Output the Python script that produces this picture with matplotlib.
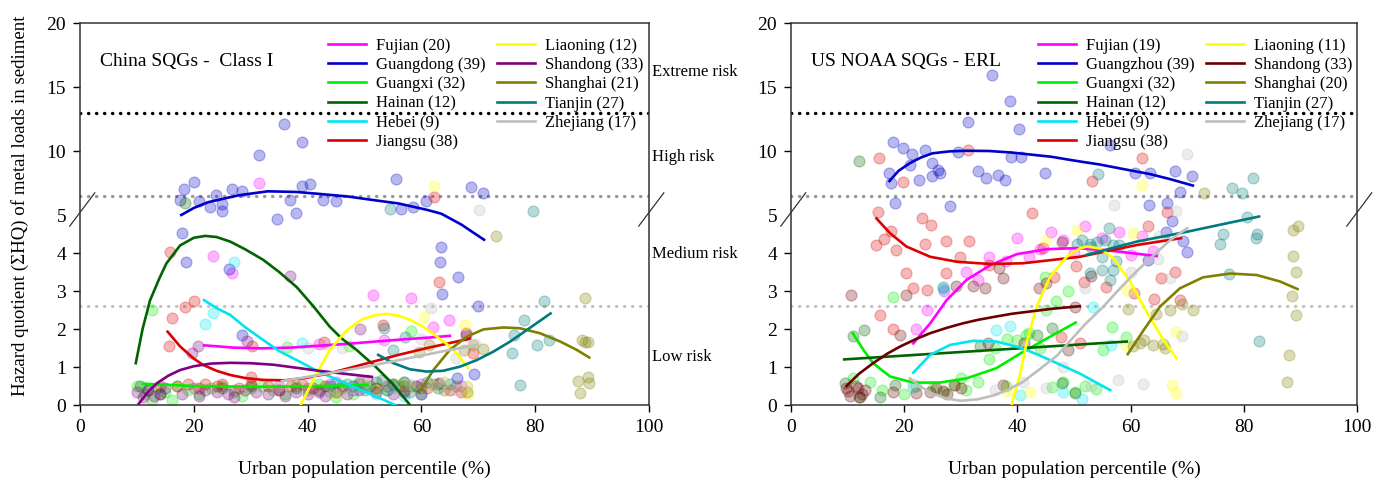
import numpy as np
import matplotlib.pyplot as plt

plt.rcParams['font.family'] = ['Liberation Serif', 'DejaVu Serif']

# legend names / sample counts
names_cn = ['Fujian', 'Guangdong', 'Guangxi', 'Hainan', 'Hebei', 'Jiangsu',
            'Liaoning', 'Shandong', 'Shanghai', 'Tianjin', 'Zhejiang']
counts_cn = [20, 39, 32, 12, 9, 38, 12, 33, 21, 27, 17]
names_us = ['Fujian', 'Guangzhou', 'Guangxi', 'Hainan', 'Hebei', 'Jiangsu',
            'Liaoning', 'Shandong', 'Shanghai', 'Tianjin', 'Zhejiang']
counts_us = [19, 39, 32, 12, 9, 38, 11, 33, 20, 27, 17]

colors_cn = ['#ff00ff', '#0000cc', '#00ee00', '#006400', '#00e5ee', '#dd0000',
             '#ffff00', '#800080', '#808000', '#007b7b', '#bebebe']
colors_us = ['#ff00ff', '#0000cc', '#00ee00', '#006400', '#00e5ee', '#dd0000',
             '#ffff00', '#6b0000', '#808000', '#007b7b', '#bebebe']

risk_levels = [13, 6.5, 2.6]
risk_colors = ['black', '#999999', '#c4c4c4']
risk_names = ['Extreme risk', 'High risk', 'Medium risk', 'Low risk']

# ---------------- China SQGs - Class I (left) ----------------
cn_fujian_pts = [(31.5, 7.5), (23.3, 3.92), (26.7, 3.48), (51.5, 2.89), (58.2, 2.82), (64.9, 2.24),
                 (62, 2.04), (53.4, 1.71), (35, 0.5), (40, 0.45), (45, 0.6), (48, 0.4), (20, 0.45),
                 (27, 0.4), (55, 0.5), (60, 0.55), (67, 0.5), (50.5, 0.65), (44, 0.55), (42, 1.6)]
cn_guangdong_pts = [(35.9, 12.1), (39, 10.7), (31.5, 9.7), (20, 7.6), (18.3, 7.0), (26.7, 7.05),
                    (39, 7.3), (40.5, 7.4), (23.9, 6.6), (55.5, 7.8), (68.8, 7.2), (70.8, 6.7),
                    (17.6, 6.2), (22.8, 5.6), (25, 5.86), (25, 5.3), (34.7, 4.89), (38, 5.13),
                    (36.9, 6.2), (45, 6.1), (60.8, 6.1), (56.5, 5.5), (21, 6.1), (42.7, 6.2),
                    (18, 4.53), (18.6, 3.76), (26.2, 3.57), (28.4, 1.84), (63.4, 4.17), (63.3, 3.76),
                    (66.5, 3.36), (63.6, 2.91), (69.9, 2.6), (67.8, 1.84), (69.3, 0.82),
                    (66.3, 0.7), (63.1, 0.59), (58.5, 5.6), (28.5, 6.9)]
cn_guangxi_pts = [(12.6, 2.5), (36.3, 1.52), (47.3, 1.54), (58.2, 1.96), (12.6, 0.13), (16.1, 0.13),
                  (10, 0.5), (11.5, 0.3), (13.5, 0.45), (15, 0.35), (17, 0.5), (19, 0.4), (21, 0.3),
                  (23, 0.45), (25, 0.5), (27, 0.35), (28.5, 0.25), (30, 0.45), (32, 0.5), (34, 0.4),
                  (36, 0.3), (38, 0.5), (40, 0.4), (42, 0.55), (44, 0.35), (46, 0.45), (48, 0.3),
                  (50, 0.5), (52, 0.45), (54, 0.4), (56, 0.5), (45, 0.2)]
cn_hainan_pts = [(18.5, 5.9), (10.5, 0.5), (12, 0.4), (14, 0.3), (25, 0.45), (30, 0.5), (38, 0.45),
                 (42, 0.4), (48, 0.5), (52, 0.6), (55, 0.55), (57, 0.5)]
cn_hebei_pts = [(27.1, 3.76), (22, 2.13), (23.3, 2.43), (39, 1.64), (48, 0.5), (52, 0.3), (55, 0.45),
                (57, 0.25), (45, 0.55)]
cn_jiangsu_pts = [(15.9, 4.03), (20.1, 2.74), (18.5, 2.57), (16.2, 2.29), (15.7, 1.56), (30.2, 1.55),
                  (42.8, 1.67), (62.2, 6.4), (63.1, 3.24), (53.3, 2.1), (67.8, 1.9), (69, 1.36),
                  (14, 0.5), (17, 0.5), (19, 0.55), (21, 0.45), (22, 0.55), (24, 0.5), (28, 0.45),
                  (30, 0.55), (33, 0.5), (35, 0.4), (37, 0.5), (39, 0.55), (41, 0.45), (43, 0.5),
                  (46, 0.5), (49, 0.55), (52, 0.45), (54, 0.5), (57, 0.4), (59, 0.5), (61, 0.45),
                  (63, 0.55), (65, 0.4), (67, 0.35), (30, 0.75), (25, 0.55)]
cn_liaoning_pts = [(62.2, 7.3), (60.5, 2.32), (67.7, 2.1), (68.2, 0.29), (68.1, 0.48), (52, 0.4),
                   (56, 0.55), (62, 0.5), (45, 0.3), (58, 0.45), (64, 0.6), (50, 0.55)]
cn_shandong_pts = [(36.9, 3.39), (20.8, 1.54), (19.7, 1.38), (29.3, 1.68), (49.2, 1.99),
                   (10, 0.35), (11, 0.2), (12, 0.4), (13, 0.25), (14, 0.3), (15, 0.45), (18, 0.3),
                   (21, 0.25), (22, 0.4), (24, 0.35), (26, 0.3), (27, 0.2), (29, 0.4), (31, 0.35),
                   (33, 0.3), (35, 0.4), (36, 0.25), (38, 0.35), (40, 0.3), (42, 0.35), (43, 0.25),
                   (45, 0.35), (47, 0.3), (49, 0.4), (52, 0.35), (55, 0.3), (57, 0.35), (60, 0.3)]
cn_shanghai_pts = [(73.1, 4.45), (88.8, 2.81), (88.8, 1.67), (89.2, 1.67), (88.2, 1.71), (89.2, 0.75),
                   (87.6, 0.64), (89.4, 0.59), (87.9, 0.32), (70.9, 1.47), (69.1, 1.58), (67.5, 1.45),
                   (61.4, 1.58), (59.6, 1.4), (58, 0.5), (60, 0.45), (62, 0.55), (64, 0.4), (66, 0.5),
                   (68, 0.35), (57, 0.6)]
cn_tianjin_pts = [(79.7, 5.3), (54.5, 5.5), (81.6, 2.74), (78.1, 2.24), (76.3, 1.84), (80.4, 1.58),
                  (82.4, 1.71), (75.9, 1.38), (77.3, 0.53), (53.4, 2.02), (57.1, 1.8), (55, 1.45),
                  (47, 0.55), (49, 0.6), (51, 0.5), (53, 0.65), (55, 0.55), (57, 0.6), (59, 0.5),
                  (61, 0.6), (63, 0.45), (65, 0.55), (50, 0.4), (54, 0.4), (58, 0.35), (44, 0.5),
                  (60, 0.3)]
cn_zhejiang_pts = [(70.1, 5.4), (61.7, 2.54), (69.4, 1.6), (66, 1.25), (43, 1.6), (46, 1.5), (50, 0.6),
                   (55, 0.45), (58, 0.55), (62, 0.5), (64, 0.6), (66, 0.4), (68, 0.5), (35, 0.5),
                   (48, 0.45), (60, 1.75), (40, 1.5)]

cn_fujian_fit = [(21.8, 1.57), (27, 1.51), (32, 1.49), (37, 1.51), (42, 1.56), (47, 1.61), (52, 1.67),
                 (57, 1.73), (61, 1.77), (65, 1.82)]
cn_guangdong_fit = [(17.8, 5.0), (20, 5.55), (22.5, 6.0), (25, 6.25), (28, 6.55), (33, 6.85), (38, 6.8),
                    (42, 6.65), (47, 6.45), (51, 6.2), (56, 5.9), (61, 5.4), (63.5, 5.1), (67, 4.75),
                    (71, 4.35)]
cn_guangxi_fit = [(11.1, 0.56), (20, 0.5), (30, 0.48), (40, 0.49), (50.5, 0.53)]
cn_hainan_fit = [(9.8, 1.1), (11, 2.0), (12.3, 2.75), (14, 3.35), (15.2, 3.73), (17.6, 4.2), (20, 4.4),
                 (22, 4.45), (24, 4.42), (26.4, 4.3), (29, 4.1), (32.2, 3.82), (35, 3.5), (38.1, 3.1),
                 (41, 2.6), (43.9, 2.06), (46, 1.75), (48.6, 1.45), (52, 1.0), (55, 0.55), (58, 0.0)]
cn_hebei_fit = [(21.8, 2.76), (24, 2.55), (26.4, 2.37), (29, 2.05), (32.2, 1.71), (35, 1.42), (38.1, 1.18),
                (41, 0.95), (43.9, 0.75), (47, 0.55), (50.7, 0.31), (55.4, 0.0)]
cn_jiangsu_fit = [(15.4, 1.93), (17.6, 1.54), (20, 1.22), (21.7, 1.05), (24, 0.9), (26.4, 0.79), (29, 0.71),
                  (32.2, 0.66), (36, 0.65), (40, 0.72), (44, 0.84), (48, 1.0), (52, 1.16), (56, 1.32),
                  (61, 1.5), (65, 1.63), (68.5, 1.75)]
cn_liaoning_fit = [(38.8, 0.0), (41, 0.66), (43.9, 1.45), (46.9, 1.97), (49.5, 2.25), (52, 2.37), (54, 2.4),
                   (56, 2.35), (58, 2.24), (60.5, 2.05), (62.7, 1.8), (64.5, 1.6), (66.2, 1.36), (68.2, 0.97)]
cn_shandong_fit = [(10.3, 0.03), (12, 0.35), (13.5, 0.57), (15.5, 0.77), (17.6, 0.92), (20, 1.02), (23, 1.09),
                   (26.4, 1.11), (30, 1.1), (34, 1.06), (38, 0.98), (42, 0.9), (46, 0.83), (51.3, 0.74)]
cn_shanghai_fit = [(59.6, 0.32), (62.1, 0.92), (65, 1.45), (68, 1.8), (70.9, 1.99), (74.4, 2.04), (77.3, 2.02),
                   (80.8, 1.89), (84.4, 1.67), (87.3, 1.45), (89.5, 1.25)]
cn_tianjin_fit = [(52.4, 1.32), (55.1, 1.1), (58, 0.94), (60.9, 0.88), (63.8, 0.9), (66.8, 1.01), (69.7, 1.18),
                  (72.6, 1.4), (75.6, 1.67), (78.5, 1.97), (82.7, 2.41)]
cn_zhejiang_fit = [(35.5, 0.63), (40, 0.74), (45, 0.87), (50, 1.0), (55, 1.15), (60, 1.3), (65, 1.45), (69.8, 1.58)]

# ---------------- US NOAA SQGs - ERL (right) ----------------
us_fujian_pts = [(46, 4.55), (48, 4.35), (44, 4.1), (40, 4.4), (38, 3.8), (52, 4.7), (58, 4.55), (62, 4.45),
                 (35, 3.9), (31, 3.5), (27, 3.0), (24, 2.5), (22, 2.0), (55, 4.4), (60, 3.95), (64, 4.05),
                 (42, 3.9), (50, 4.0), (33, 3.3)]
us_guangzhou_pts = [(35.6, 15.9), (38.7, 13.9), (31.2, 12.3), (40.3, 11.7), (18, 10.7), (19.7, 10.2),
                    (21.4, 9.74), (23.7, 10.1), (24.9, 9.04), (26, 8.5), (26.3, 8.26), (17.4, 8.26),
                    (17.6, 7.47), (22.6, 7.73), (24.9, 8.05), (34.5, 7.87), (36.6, 8.1), (37.8, 7.73),
                    (38.8, 9.55), (40.6, 9.55), (44.8, 8.26), (56.4, 10.5), (60.7, 8.3), (63.4, 8.26),
                    (67.8, 8.44), (70.8, 8.05), (68.7, 6.8), (18.4, 5.91), (28.1, 5.7), (63.3, 5.78),
                    (66.5, 5.91), (67.4, 4.83), (66.2, 4.56), (69.3, 4.32), (69.9, 4.03), (63, 3.82),
                    (29.5, 9.95), (33, 8.4), (21, 8.9)]
us_guangxi_pts = [(18.1, 2.83), (29, 0.53), (38.1, 1.75), (41.6, 1.84), (44.9, 3.38), (46.9, 2.74),
                  (46.1, 0.48), (56.8, 2.04), (59.1, 1.8), (55.1, 1.45), (53.9, 0.41), (50.2, 0.35),
                  (49, 3.0), (40, 1.7), (36, 1.5), (30, 0.7), (25, 0.45), (22, 0.5), (14, 0.6), (11, 0.7),
                  (16, 0.4), (20, 0.3), (33, 0.6), (42, 1.9), (48, 0.6), (52, 0.5), (35, 1.2), (44, 1.5),
                  (27, 0.35), (31, 0.4), (38, 0.5), (45, 2.5)]
us_hainan_pts = [(12.1, 9.24), (9.5, 0.59), (12.9, 1.97), (10.9, 1.82), (12.2, 0.22), (15.7, 0.2),
                 (18.4, 0.53), (33.4, 1.54), (43.4, 1.84), (46.1, 2.02), (47.8, 0.57), (50.2, 0.32)]
us_hebei_pts = [(26.9, 3.04), (36.2, 1.97), (38.7, 2.08), (40.5, 0.26), (48.1, 0.35), (21.6, 0.48),
                (51.4, 0.16), (56.5, 1.58), (53.4, 2.57)]
us_jiangsu_pts = [(15.6, 9.48), (19.7, 7.6), (31.2, 10.1), (62, 9.43), (53.1, 7.65), (15.4, 5.26),
                  (42.6, 5.13), (23.2, 4.91), (24.7, 4.74), (17.6, 4.59), (16.4, 4.36), (15.1, 4.21),
                  (18.6, 4.08), (23.7, 4.24), (27.3, 4.32), (31.5, 4.32), (29.9, 3.89), (20.3, 3.48),
                  (27.3, 3.48), (21.5, 3.07), (24, 3.03), (15.8, 2.37), (18.1, 2.0), (44.6, 4.12),
                  (46.4, 3.38), (34.9, 3.68), (50.4, 3.66), (47.7, 1.8), (63, 4.71), (66.5, 5.26),
                  (51.8, 3.25), (55.6, 3.1), (60.6, 2.94), (65.3, 3.33), (67.8, 3.51), (64.1, 2.78),
                  (68.7, 2.76), (51.1, 1.62)]
us_liaoning_pts = [(62.1, 7.34), (38.1, 0.38), (42.2, 0.35), (60.4, 4.52), (67.3, 0.53), (68.1, 0.31),
                   (68, 1.93), (59.1, 1.58), (59.3, 3.03), (50.5, 4.6), (45, 4.35)]
us_shandong_pts = [(10.6, 2.89), (20.4, 2.89), (32.1, 3.13), (34.2, 3.07), (37.5, 3.33), (36.7, 3.6),
                   (29.1, 3.13), (19.3, 1.84), (43.9, 3.07), (47.8, 4.3), (50.2, 2.59), (49, 1.46),
                   (10.1, 0.38), (11.9, 0.44), (12.6, 0.3), (18.1, 0.35), (22.1, 0.32), (25.7, 0.44),
                   (26.8, 0.38), (28.8, 0.53), (34.8, 1.64), (41.2, 1.64), (37.5, 0.53), (10.5, 0.25),
                   (13, 0.4), (27.5, 0.3), (53, 3.4), (11.5, 0.5), (24.5, 0.35), (12, 0.2), (9.8, 0.45),
                   (30, 0.45), (45, 3.2)]
us_shanghai_pts = [(73, 6.7), (88.7, 4.61), (89.5, 4.71), (88.7, 3.92), (89.3, 3.51), (88.6, 2.87),
                   (89.2, 2.37), (88, 1.32), (87.7, 0.61), (59.6, 2.52), (67, 2.5), (69, 2.66), (71, 2.5),
                   (61.7, 1.64), (63.9, 1.58), (65.8, 1.61), (62.3, 1.7), (60.5, 1.55), (64.5, 2.4), (66, 1.5)]
us_tianjin_pts = [(54.3, 8.2), (78, 7.09), (79.6, 6.7), (81.6, 7.87), (56.2, 4.65), (52.8, 4.25), (54, 4.3),
                  (56.9, 4.21), (54.9, 3.55), (56.9, 3.55), (56.4, 3.3), (52.8, 3.48), (76.4, 4.5),
                  (75.8, 4.23), (82.3, 4.5), (82.1, 4.39), (80.5, 4.94), (77.3, 3.44), (82.7, 1.69),
                  (50.5, 4.25), (51.5, 4.35), (53, 4.15), (55.5, 4.35), (58, 4.2), (55, 3.9), (57.5, 3.8),
                  (26.9, 3.1)]
us_zhejiang_pts = [(57.1, 5.78), (68, 5.34), (64.9, 3.83), (67, 3.33), (51.9, 3.07), (57.8, 0.66),
                   (62.2, 0.55), (69, 1.82), (70, 9.8), (21.6, 0.55), (36, 0.4), (41, 0.6), (45, 0.45),
                   (48, 1.0), (60, 3.5), (65, 4.45), (53, 0.5)]

us_fujian_fit = [(21.6, 1.62), (24.6, 2.15), (27.5, 2.76), (31, 3.29), (35.2, 3.68), (39.9, 3.97),
                 (45.2, 4.1), (50.5, 4.13), (55.2, 4.08), (60, 4.0), (64.6, 3.92)]
us_guangzhou_fit = [(17.4, 7.65), (19, 8.45), (21, 9.05), (23, 9.5), (25, 9.82), (28, 9.97), (31, 10.02),
                    (35, 10.0), (39, 9.88), (42.8, 9.7), (46, 9.55), (48.7, 9.35), (51.5, 9.15), (54.5, 8.95),
                    (58, 8.65), (61, 8.4), (63.4, 8.2), (67, 7.8), (71, 7.3)]
us_guangxi_fit = [(10.9, 1.89), (12.8, 1.45), (14.5, 1.1), (17.5, 0.75), (21.6, 0.59), (26.3, 0.59),
                  (31, 0.7), (36.3, 0.97), (41, 1.4), (45.8, 1.8), (50.3, 2.17)]
us_hainan_fit = [(9.4, 1.2), (59.3, 1.67)]
us_hebei_fit = [(21.6, 0.85), (24.6, 1.32), (28.1, 1.58), (32.2, 1.69), (36.3, 1.67), (41, 1.49),
                (45.8, 1.18), (51, 0.83), (56.4, 0.39)]
us_jiangsu_fit = [(15.1, 4.91), (17.5, 4.52), (20.4, 4.17), (24.6, 3.9), (29.3, 3.77), (35.2, 3.71),
                  (41, 3.73), (46.9, 3.83), (51, 3.9), (55.2, 4.03), (61.1, 4.21), (68.9, 4.39)]
us_liaoning_fit = [(39, 0.0), (40.5, 0.83), (41.6, 1.62), (43.4, 2.59), (45.8, 3.38), (48.7, 3.9), (51, 4.12),
                   (52.2, 4.17), (54.6, 4.12), (57, 3.86), (59.9, 3.25), (62.8, 2.46), (65.8, 1.71), (68.1, 1.23)]
us_shandong_fit = [(9.8, 0.5), (12, 0.82), (14.5, 1.1), (17, 1.35), (19.3, 1.54), (22, 1.73), (24.6, 1.89),
                   (27.5, 2.03), (30.4, 2.15), (33, 2.24), (36.3, 2.33), (39, 2.4), (42.2, 2.46), (46, 2.53),
                   (51, 2.6)]
us_shanghai_fit = [(59.5, 1.34), (62.3, 1.97), (65.2, 2.59), (68.7, 3.07), (72.8, 3.36), (77.6, 3.46),
                   (82.3, 3.42), (86.4, 3.25), (89.5, 3.05)]
us_tianjin_fit = [(52.2, 3.95), (61.1, 4.3), (70, 4.56), (76, 4.75), (82.7, 4.96)]
us_zhejiang_fit = [(21, 0.7), (23, 0.47), (25, 0.3), (27.5, 0.17), (30, 0.11), (33, 0.15), (35.5, 0.24),
                   (38, 0.38), (41, 0.61), (44, 0.95), (47, 1.3), (49.5, 1.72), (52, 2.13), (55.2, 2.59),
                   (58, 3.05), (61, 3.51), (64, 3.93), (67, 4.34), (70, 4.65)]

cn_pts = [cn_fujian_pts, cn_guangdong_pts, cn_guangxi_pts, cn_hainan_pts, cn_hebei_pts, cn_jiangsu_pts,
          cn_liaoning_pts, cn_shandong_pts, cn_shanghai_pts, cn_tianjin_pts, cn_zhejiang_pts]
cn_fits = [cn_fujian_fit, cn_guangdong_fit, cn_guangxi_fit, cn_hainan_fit, cn_hebei_fit, cn_jiangsu_fit,
           cn_liaoning_fit, cn_shandong_fit, cn_shanghai_fit, cn_tianjin_fit, cn_zhejiang_fit]
us_pts = [us_fujian_pts, us_guangzhou_pts, us_guangxi_pts, us_hainan_pts, us_hebei_pts, us_jiangsu_pts,
          us_liaoning_pts, us_shandong_pts, us_shanghai_pts, us_tianjin_pts, us_zhejiang_pts]
us_fits = [us_fujian_fit, us_guangzhou_fit, us_guangxi_fit, us_hainan_fit, us_hebei_fit, us_jiangsu_fit,
           us_liaoning_fit, us_shandong_fit, us_shanghai_fit, us_tianjin_fit, us_zhejiang_fit]

# broken y axis: 0-5 stretched, 5-20 compressed
BRK = 5.0
K = 12.8 / 38.0


def fwd(y):
    y = np.asarray(y, dtype=float)
    return np.where(y <= BRK, y, BRK + (y - BRK) * K)


def inv(t):
    t = np.asarray(t, dtype=float)
    return np.where(t <= BRK, t, BRK + (t - BRK) / K)


def draw_panel(ax, pts, fits, names, counts, colors, title):
    ax.set_yscale('function', functions=(fwd, inv))
    for p, c in zip(pts, colors):
        p = np.array(p)
        ax.scatter(p[:, 0], p[:, 1], s=62, color=c, alpha=0.28, edgecolors=c, linewidths=0.9, zorder=2)
    for lev, rc in zip(risk_levels, risk_colors):
        ax.axhline(lev, color=rc, lw=2.4, ls=(0, (0.1, 2.3)), dash_capstyle='round', zorder=1)
    for f, c, n, k in zip(fits, colors, names, counts):
        f = np.array(f)
        ax.plot(f[:, 0], f[:, 1], color=c, lw=1.9, zorder=3, label='%s (%d)' % (n, k))
    ax.set_xlim(0, 100)
    ax.set_ylim(0, 20)
    ax.set_xticks([0, 20, 40, 60, 80, 100])
    ax.set_yticks([0, 1, 2, 3, 4, 5, 10, 15, 20])
    ax.yaxis.get_major_ticks()[5].tick1line.set_visible(False)
    ax.tick_params(direction='out', length=5, width=1, labelsize=14, pad=5)
    for s in ax.spines.values():
        s.set_linewidth(1.1)
        s.set_color('#333333')
    ax.set_xlabel('Urban population percentile (%)', fontsize=14, labelpad=18)
    ax.text(0.035, 0.9, title, transform=ax.transAxes, fontsize=14, va='center')
    ax.legend(loc='upper left', bbox_to_anchor=(0.436, 0.962), ncol=2, frameon=False, fontsize=12,
              handlelength=2.3, handletextpad=0.6, columnspacing=0.66, labelspacing=0.2,
              borderaxespad=0, borderpad=0)
    # break marks on both vertical spines
    y5 = ax.transAxes.inverted().transform(ax.transData.transform((0, BRK)))[1]
    for x0 in (0.0, 1.0):
        ax.plot([x0 - 0.018, x0 + 0.026], [y5 - 0.029, y5 + 0.058], transform=ax.transAxes,
                color='#333333', lw=0.9, clip_on=False, zorder=5)


fig = plt.figure(figsize=(13.75, 4.8), dpi=100)
ax1 = fig.add_axes([80 / 1375, 75 / 480, 569 / 1375, 382 / 480])
ax2 = fig.add_axes([791 / 1375, 75 / 480, 566 / 1375, 382 / 480])

draw_panel(ax1, cn_pts, cn_fits, names_cn, counts_cn, colors_cn, 'China SQGs -  Class I')
draw_panel(ax2, us_pts, us_fits, names_us, counts_us, colors_us, 'US NOAA SQGs - ERL')

ax1.set_ylabel('Hazard quotient (\u03a3HQ) of metal loads in sediment', fontsize=13.6)
ax1.yaxis.set_label_coords(-0.09, 0.521)

risk_y = [72, 157, 254, 357]
for name, yy in zip(risk_names, risk_y):
    fig.text(652 / 1375, 1 - yy / 480, name, fontsize=12, va='center', ha='left')

fig.savefig('out.png', dpi=100)
